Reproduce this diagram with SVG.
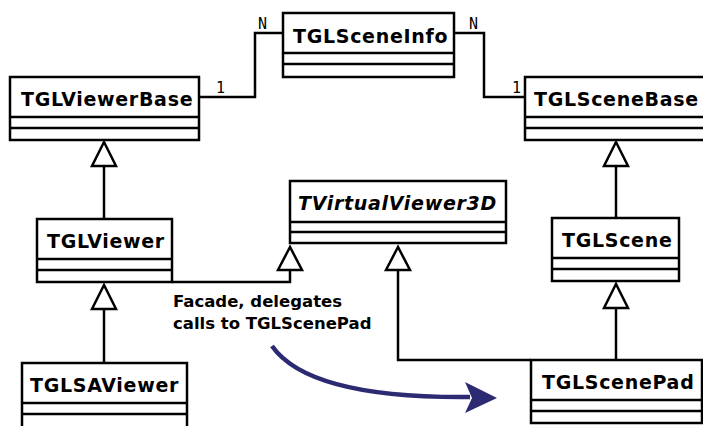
<svg xmlns="http://www.w3.org/2000/svg" width="703" height="426" viewBox="0 0 703 426">
<style>
.box{fill:#fff;stroke:#000;stroke-width:2.5}
.div{stroke:#000;stroke-width:2.5}
.name{font-family:"DejaVu Sans",sans-serif;font-weight:bold;font-size:19px;letter-spacing:0.7px;fill:#000}
.ital{font-style:oblique}
.con{fill:none;stroke:#000;stroke-width:2.5}
.tri{fill:#fff;stroke:#000;stroke-width:2.5;stroke-linejoin:miter}
.mult{font-family:"DejaVu Sans Mono",monospace;font-size:15px;fill:#000}
.note{font-family:"DejaVu Sans",sans-serif;font-weight:bold;font-size:16.5px;fill:#000}
</style>
<rect width="703" height="426" fill="#fff"/>
<g id="connectors">
<polyline class="con" points="199,97 255,97 255,33 283,33"/>
<polyline class="con" points="454,33 484,33 484,97 525,97"/>
<text class="mult" x="216" y="93">1</text>
<text class="mult" x="258" y="29">N</text>
<text class="mult" x="469" y="29">N</text>
<text class="mult" x="512" y="93">1</text>
<line class="con" x1="104" y1="166" x2="104" y2="219"/>
<polygon class="tri" points="104,142 92,166 116,166"/>
<line class="con" x1="104" y1="309" x2="104" y2="363"/>
<polygon class="tri" points="104,285 92,309 116,309"/>
<line class="con" x1="616" y1="166" x2="616" y2="218"/>
<polygon class="tri" points="616,142 604,166 628,166"/>
<line class="con" x1="616" y1="308" x2="616" y2="360"/>
<polygon class="tri" points="616,284 604,308 628,308"/>
<polyline class="con" points="172,282 290,282 290,270"/>
<polygon class="tri" points="290,247 278,270 302,270"/>
<polyline class="con" points="398,270 398,360 531,360"/>
<polygon class="tri" points="398,247 386,270 410,270"/>
<text class="note" x="173" y="307">Facade, delegates</text>
<text class="note" x="173" y="329">calls to TGLScenePad</text>
<path d="M272,346 C298,383 370,398 470,397" fill="none" stroke="#2b2a72" stroke-width="4.5"/>
<polygon points="497,398 465,382 472,398 465,413" fill="#2b2a72"/>
</g>
<g id="TGLSceneInfo">
<rect class="box" x="283" y="13" width="171" height="64"/>
<line class="div" x1="283" y1="53" x2="454" y2="53"/>
<line class="div" x1="283" y1="64" x2="454" y2="64"/>
<text class="name" x="293" y="43">TGLSceneInfo</text>
</g>
<g id="TGLViewerBase">
<rect class="box" x="10" y="77" width="189" height="63"/>
<line class="div" x1="10" y1="117" x2="199" y2="117"/>
<line class="div" x1="10" y1="128" x2="199" y2="128"/>
<text class="name" x="21" y="106">TGLViewerBase</text>
</g>
<g id="TGLSceneBase">
<rect class="box" x="525" y="77" width="182" height="63"/>
<line class="div" x1="525" y1="117" x2="707" y2="117"/>
<line class="div" x1="525" y1="128" x2="707" y2="128"/>
<text class="name" x="534" y="106">TGLSceneBase</text>
</g>
<g id="TVirtualViewer3D">
<rect class="box" x="290" y="181" width="216" height="62"/>
<line class="div" x1="290" y1="222" x2="506" y2="222"/>
<line class="div" x1="290" y1="232" x2="506" y2="232"/>
<text class="name ital" x="298" y="210">TVirtualViewer3D</text>
</g>
<g id="TGLViewer">
<rect class="box" x="37" y="219" width="135" height="63"/>
<line class="div" x1="37" y1="259" x2="172" y2="259"/>
<line class="div" x1="37" y1="270" x2="172" y2="270"/>
<text class="name" x="47" y="248">TGLViewer</text>
</g>
<g id="TGLScene">
<rect class="box" x="552" y="218" width="127" height="63"/>
<line class="div" x1="552" y1="258" x2="679" y2="258"/>
<line class="div" x1="552" y1="269" x2="679" y2="269"/>
<text class="name" x="562" y="247">TGLScene</text>
</g>
<g id="TGLSAViewer">
<rect class="box" x="22" y="363" width="165" height="65"/>
<line class="div" x1="22" y1="403" x2="187" y2="403"/>
<line class="div" x1="22" y1="414" x2="187" y2="414"/>
<text class="name" x="30" y="392">TGLSAViewer</text>
</g>
<g id="TGLScenePad">
<rect class="box" x="531" y="360" width="171" height="63"/>
<line class="div" x1="531" y1="400" x2="702" y2="400"/>
<line class="div" x1="531" y1="411" x2="702" y2="411"/>
<text class="name" x="542" y="389">TGLScenePad</text>
</g>
</svg>
